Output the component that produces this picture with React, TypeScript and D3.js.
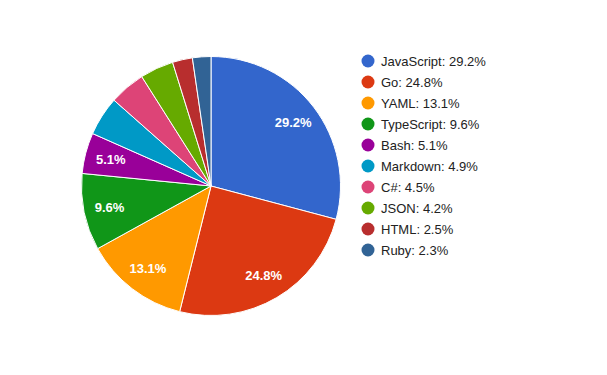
import React from 'react'
import * as d3 from 'd3'

const languages = ['JavaScript', 'Go', 'YAML', 'TypeScript', 'Bash', 'Markdown', 'C#', 'JSON', 'HTML', 'Ruby']
const shares = [29.2, 24.8, 13.1, 9.6, 5.1, 4.9, 4.5, 4.2, 2.5, 2.3]
const palette = ['#3366cc', '#dc3912', '#ff9900', '#109618', '#990099', '#0099c6', '#dd4477', '#66aa00', '#b82e2e', '#316395']

const width = 607, height = 375
const cx = 211, cy = 186, radius = 129.5

const App = () => {
    const pie = d3.pie<number>().sort(null).value(d => d)
    const arcs = pie(shares)
    const arc = d3.arc<d3.PieArcDatum<number>>().innerRadius(0).outerRadius(radius)
    const labelArc = d3.arc<d3.PieArcDatum<number>>().innerRadius(radius * 0.8).outerRadius(radius * 0.8)

    // legend rows, ~21px apart
    const legendY = d3.scaleBand().domain(languages).range([50.5, 260.5])

    return (
        <svg width={width} height={height} style={{ position: 'absolute', left: 0, top: 0 }}
            fontFamily="Arial, 'Liberation Sans', sans-serif">
            <rect width={width} height={height} fill="#fff" />
            <g transform={`translate(${cx},${cy})`}>
                {arcs.map((a, i) => (
                    <path key={i} d={arc(a) || ''} fill={palette[i]} stroke="#fff" strokeWidth={1} />
                ))}
                {arcs.map((a, i) => {
                    if (a.data < 5) return null
                    const [x, y] = labelArc.centroid(a)
                    return (
                        <text key={'l' + i} x={x} y={y} dy="0.35em" textAnchor="middle" fill="#fff"
                            fontSize={13} fontWeight="bold">{a.data}%</text>
                    )
                })}
            </g>
            <g>
                {languages.map((name, i) => {
                    const y = (legendY(name) || 0) + legendY.bandwidth() / 2
                    return (
                        <g key={name}>
                            <circle cx={368} cy={y} r={6.5} fill={palette[i]} />
                            <text x={381} y={y} dy="0.35em" fontSize={13} fill="#222">{name}: {shares[i]}%</text>
                        </g>
                    )
                })}
            </g>
        </svg>
    )
}

export default App
